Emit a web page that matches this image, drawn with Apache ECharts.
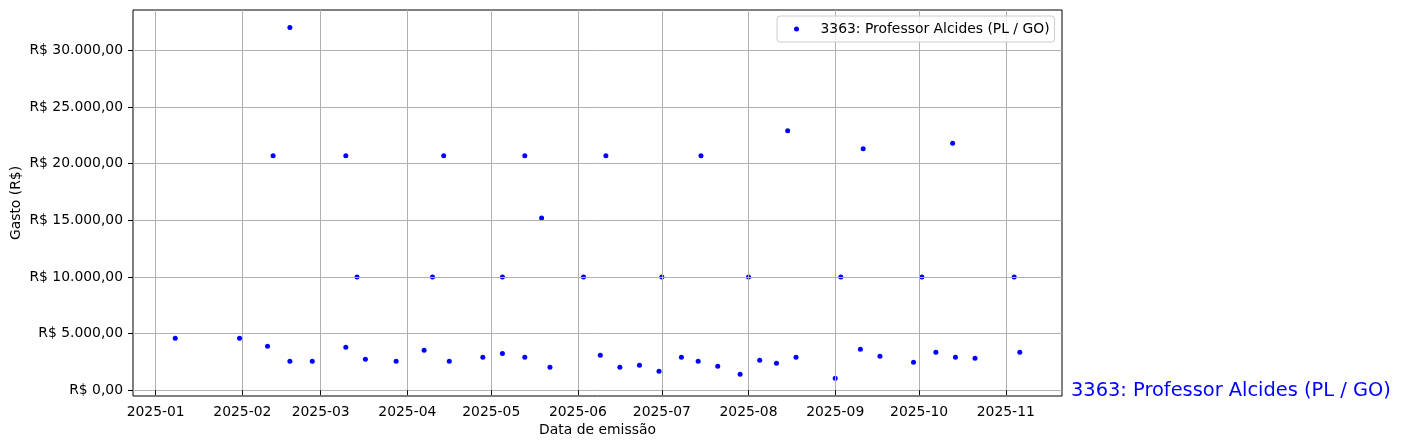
<!DOCTYPE html>
<html>
<head>
<meta charset="utf-8">
<script src="https://cdn.jsdelivr.net/npm/echarts@6/dist/echarts.min.js"></script>
<style>
html,body{margin:0;padding:0;background:#fff;}
#chart{width:1402px;height:448px;}
</style>
</head>
<body>
<div id="chart"></div>
<script>
const seriesName = '3363: Professor Alcides (PL / GO)';
const dates = [
  '2025-01-08','2025-01-31','2025-02-10','2025-02-12','2025-02-18','2025-02-18','2025-02-26',
  '2025-03-10','2025-03-10','2025-03-14','2025-03-17','2025-03-28',
  '2025-04-07','2025-04-10','2025-04-14','2025-04-16','2025-04-28',
  '2025-05-05','2025-05-05','2025-05-13','2025-05-13','2025-05-19','2025-05-22',
  '2025-06-03','2025-06-09','2025-06-11','2025-06-16','2025-06-23','2025-06-30',
  '2025-07-01','2025-07-08','2025-07-14','2025-07-15','2025-07-21','2025-07-29',
  '2025-08-01','2025-08-05','2025-08-11','2025-08-15','2025-08-18',
  '2025-09-01','2025-09-03','2025-09-10','2025-09-11','2025-09-17','2025-09-29',
  '2025-10-02','2025-10-07','2025-10-13','2025-10-14','2025-10-21',
  '2025-11-04','2025-11-06'
];
const values = [
  4600,4600,3880,20700,32000,2560,2560,
  20700,3790,10000,2740,2560,
  3530,10000,20700,2560,2910,
  3260,10000,20700,2910,15200,2030,
  10000,3090,20700,2030,2210,1680,
  10000,2910,2560,20700,2120,1410,
  10000,2650,2380,22900,2910,
  1060,10000,3620,21300,3000,2470,
  10000,3350,21800,2910,2820,
  10000,3350
];
const xTickLabels = ['2025-01','2025-02','2025-03','2025-04','2025-05','2025-06','2025-07','2025-08','2025-09','2025-10','2025-11'];
const yTicks = [0,5000,10000,15000,20000,25000,30000];

function toTs(s){ return Date.UTC(+s.slice(0,4), +s.slice(5,7)-1, +s.slice(8,10)); }
const DAY = 86400000;
const xTickTs = xTickLabels.map(s => toTs(s + '-01'));
const points = dates.map((d,i) => [toTs(d), values[i]]);

function fmtBRL(v){
  const n = Math.round(v);
  const s = Math.abs(n).toString().replace(/\B(?=(\d{3})+(?!\d))/g, '.');
  return 'R$ ' + (n < 0 ? '-' : '') + s + ',00';
}
function fmtMonth(ts){
  const d = new Date(ts);
  const m = d.getUTCMonth() + 1;
  return d.getUTCFullYear() + '-' + (m < 10 ? '0' + m : m);
}

const FONT = 'DejaVu Sans';
const chart = echarts.init(document.getElementById('chart'), null, {renderer:'canvas'});
chart.setOption({
  animation:false,
  backgroundColor:'#ffffff',
  textStyle:{fontFamily:FONT},
  grid:{left:133, right:340, top:10, bottom:52, containLabel:false, outerBoundsMode:'none',
        show:true, borderColor:'#000', borderWidth:1, backgroundColor:'transparent', z:3},
  legend:{
    left:777, top:16, orient:'horizontal',
    padding:[6,5,6,17],
    itemWidth:34, itemHeight:5, itemGap:5,
    backgroundColor:'rgba(255,255,255,0.8)',
    borderColor:'#cccccc', borderWidth:1, borderRadius:3,
    textStyle:{fontFamily:FONT, fontSize:13.9, color:'#000', padding:[0,0,0,2]},
    data:[{name:seriesName, icon:'circle'}],
    z:10
  },
  xAxis:{
    type:'value',
    min: toTs('2025-01-01') - 8.1*DAY,
    max: toTs('2025-11-01') + 20.1*DAY,
    name:'Data de emissão', nameLocation:'middle', nameGap:27, nameMoveOverlap:false,
    nameTextStyle:{fontFamily:FONT, fontSize:13.9, color:'#000'},
    axisLine:{show:false},
    axisTick:{show:true, length:5, inside:false, lineStyle:{color:'#000', width:1}, customValues:xTickTs},
    axisLabel:{show:true, margin:9, fontFamily:FONT, fontSize:13.9, color:'#000', customValues:xTickTs, formatter:(v)=>fmtMonth(v), hideOverlap:false},
    splitLine:{show:true, lineStyle:{color:'#b0b0b0', width:1}},
    z:3
  },
  yAxis:{
    type:'value',
    min:-500, max:33550,
    name:'Gasto (R$)', nameLocation:'middle', nameGap:110, nameRotate:90, nameMoveOverlap:false,
    nameTextStyle:{fontFamily:FONT, fontSize:13.9, color:'#000'},
    axisLine:{show:false},
    axisTick:{show:true, length:5, inside:false, lineStyle:{color:'#000', width:1}, customValues:yTicks},
    axisLabel:{show:true, margin:10, fontFamily:FONT, fontSize:13.9, color:'#000', customValues:yTicks, formatter:(v)=>fmtBRL(v)},
    splitLine:{show:true, lineStyle:{color:'#b0b0b0', width:1}},
    z:3
  },
  graphic:[{
    type:'text', left:1071, top:381,
    style:{text:seriesName, fill:'#0000ff', font:'19.4px "DejaVu Sans"'},
    z:10
  }],
  series:[{
    name:seriesName,
    type:'scatter',
    data:points,
    symbol:'circle',
    symbolSize:5,
    itemStyle:{color:'#0000ff', opacity:1},
    z:2
  }]
});
</script>
</body>
</html>
